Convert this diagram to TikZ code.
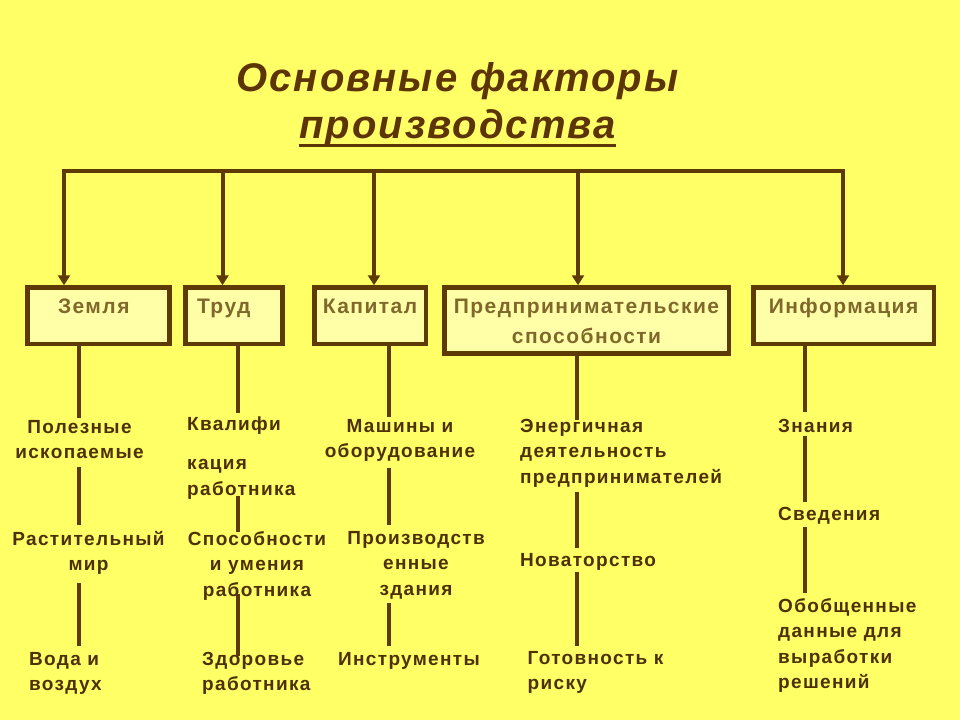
\documentclass[tikz,border=0pt]{standalone}
\usepackage{fontspec}
\setmainfont{Liberation Sans}
\newfontfamily\titlefont{Liberation Sans}[LetterSpace=5]
\newfontfamily\boxfont{Liberation Sans}[LetterSpace=7]
\newfontfamily\itemfont{Liberation Sans}[LetterSpace=7]
\usetikzlibrary{arrows.meta}
\definecolor{bgyellow}{RGB}{255,255,102}
\definecolor{boxyellow}{RGB}{255,255,168}
\definecolor{brownline}{RGB}{94,58,6}
\definecolor{browntitle}{RGB}{92,52,6}
\definecolor{browntext}{RGB}{78,48,4}
\definecolor{olivetext}{RGB}{128,104,44}
\tikzset{
	heading/.style={inner sep=0pt, anchor=base, text=browntitle, font=\titlefont\bfseries\itshape\fontsize{40}{47}\selectfont},
	factor/.style={draw=brownline, fill=boxyellow, line width=4.5pt, anchor=north, inner xsep=6pt, inner ysep=11.25pt, text height=15pt, text depth=19pt, text=olivetext, font=\boxfont\bfseries\fontsize{21}{30}\selectfont},
	item/.style={inner sep=2pt, text=browntext, font=\itemfont\bfseries\fontsize{19}{25.5}\selectfont},
	bus/.style={draw=brownline, line width=4pt},
	feed/.style={bus, -{Triangle[width=12pt,length=10pt]}},
	stem/.style={draw=brownline, line width=4pt},
}

\begin{document}
\begin{tikzpicture}[x=1pt, y=-1pt]
		%%%%% START %%%%%
		
		\fill[bgyellow] (0, 0) rectangle (960, 720);
		\useasboundingbox (0, 0) rectangle (960, 720);
		
		% title
		\node[heading] (title) at (457.5, 91) {Основные факторы};
		\node[heading] (subtitle) at (457.5, 138) {производства};
		\draw[line width=3pt, browntitle] ([yshift=-7.5pt]subtitle.base west) -- ([yshift=-7.5pt]subtitle.base east);
		
		% factors
		\node[factor, text width=81pt, align=left, inner xsep=30.5pt] (zemlya) at (98.5, 285.25) {Земля};
		\node[factor, text width=74pt, align=left, inner xsep=11.5pt] (trud) at (234, 285.25) {Труд};
		\node[factor, minimum width=111.5pt] (kapital) at (370, 285.25) {Капитал};
		\node[factor, minimum width=284.5pt, align=center, text height=45.5pt, text depth=0pt, inner ysep=10.25pt] (predpr) at (586.5, 285.25) {Предпринимательские\\способности};
		\node[factor, minimum width=180.5pt] (inform) at (843.5, 285.25) {Информация};
		
		% bus with arrows
		\coordinate (a1) at (64, 171);
		\coordinate (a2) at (222.5, 171);
		\coordinate (a3) at (374, 171);
		\coordinate (a4) at (578, 171);
		\coordinate (a5) at (843, 171);
		\draw[bus, line cap=rect] (a1) -- (a5);
		\draw[feed] (a1) -- (a1 |- zemlya.north);
		\draw[feed] (a2) -- (a2 |- trud.north);
		\draw[feed] (a3) -- (a3 |- kapital.north);
		\draw[feed] (a4) -- (a4 |- predpr.north);
		\draw[feed] (a5) -- (a5 |- inform.north);
		
		% Земля
		\node[item, anchor=north, align=center] (z1) at (79.5, 418) {Полезные\\ископаемые};
		\node[item, anchor=north, align=center] (z2) at (88.5, 529) {Растительный\\мир};
		\node[item, anchor=north west, align=left] (z3) at (27, 650) {Вода и\\воздух};
		
		% Труд
		\node[item, anchor=north west, align=left] (t1) at (185, 415) {Квалифи\\[13pt]кация\\[1pt]работника};
		\node[item, anchor=north, align=center] (t2) at (257, 529) {Способности\\и умения\\работника};
		\node[item, anchor=north west, align=left] (t3) at (200, 650) {Здоровье\\работника};
		
		% Капитал
		\node[item, anchor=north, align=center] (k1) at (400, 417) {Машины и\\оборудование};
		\node[item, anchor=north, align=center] (k2) at (416, 529) {Производств\\енные\\здания};
		\node[item, anchor=north west, align=left] (k3) at (336, 650) {Инструменты};
		
		% Предпринимательские способности
		\node[item, anchor=north west, align=left] (p1) at (518, 417) {Энергичная\\деятельность\\предпринимателей};
		\node[item, anchor=north west, align=left] (p2) at (518, 551) {Новаторство};
		\node[item, anchor=north west, align=left] (p3) at (525.5, 649) {Готовность к\\риску};
		
		% Информация
		\node[item, anchor=north west, align=left] (i1) at (776, 417) {Знания};
		\node[item, anchor=north west, align=left] (i2) at (776, 505) {Сведения};
		\node[item, anchor=north west, align=left] (i3) at (776, 596) {Обобщенные\\данные для\\выработки\\решений};
		
		% stems
		\coordinate (c1) at (79, 0);
		\coordinate (c2) at (237.5, 0);
		\coordinate (c3) at (388.5, 0);
		\coordinate (c4) at (577, 0);
		\coordinate (c5) at (805, 0);
		
		\draw[stem] (c1 |- zemlya.south) -- (c1 |- z1.north);
		\draw[stem, shorten <=6pt, shorten >=4pt] (c1 |- z1.south) -- (c1 |- z2.north);
		\draw[stem, shorten <=6pt, shorten >=4pt] (c1 |- z2.south) -- (c1 |- z3.north);
		
		\draw[stem, shorten >=2pt] (c2 |- trud.south) -- (c2 |- t1.north);
		\draw[stem, shorten <=-6pt, shorten >=-3pt] (c2 |- t1.south) -- (c2 |- t2.north);
		\draw[stem, shorten <=-8pt, shorten >=-6pt] (c2 |- t2.south) -- (c2 |- t3.north);
		
		\draw[stem] (c3 |- kapital.south) -- (c3 |- k1.north);
		\draw[stem, shorten <=4pt, shorten >=4pt] (c3 |- k1.south) -- (c3 |- k2.north);
		\draw[stem, shorten <=2pt, shorten >=4pt] (c3 |- k2.south) -- (c3 |- k3.north);
		
		\draw[stem, shorten >=-3pt] (c4 |- predpr.south) -- (c4 |- p1.north);
		\draw[stem, shorten <=2pt, shorten >=3pt] (c4 |- p1.south) -- (c4 |- p2.north);
		\draw[stem, shorten >=3pt] (c4 |- p2.south) -- (c4 |- p3.north);
		
		\draw[stem, shorten >=5pt] (c5 |- inform.south) -- (c5 |- i1.north);
		\draw[stem, shorten <=1pt, shorten >=3pt] (c5 |- i1.south) -- (c5 |- i2.north);
		\draw[stem, shorten <=1pt, shorten >=3pt] (c5 |- i2.south) -- (c5 |- i3.north);
		
		%%%%% END %%%%%
\end{tikzpicture}
\end{document}
